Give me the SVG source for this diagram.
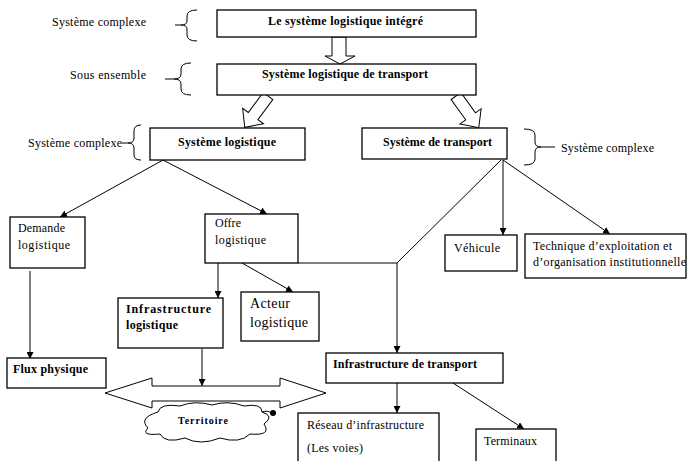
<svg xmlns="http://www.w3.org/2000/svg" width="688" height="461" viewBox="0 0 688 461">
  <defs>
    <marker id="arr" viewBox="0 0 10 10" refX="10" refY="5" markerWidth="7" markerHeight="7" orient="auto-start-reverse" markerUnits="userSpaceOnUse">
      <path d="M0,0 L10,5 L0,10 Z" fill="#000"/>
    </marker>
    <style>
      text { font-family: "Liberation Serif", "Times New Roman", serif; fill: #000; }
      .b { font-weight: bold; font-size: 12px; }
      .r { font-size: 12px; }
      .box { fill: #fff; stroke: #000; stroke-width: 1.3; }
      .ln { fill: none; stroke: #000; stroke-width: 1; }
      .hol { fill: #fff; stroke: #000; stroke-width: 1; stroke-linejoin: miter; }
      .brace { fill: none; stroke: #000; stroke-width: 1; }
    </style>
  </defs>
  <rect width="688" height="461" fill="#fff"/>

  <!-- side annotations with braces -->
  <g id="note-top">
    <text class="r" x="52" y="26" textLength="94" lengthAdjust="spacing">Système complexe</text>
    <path class="brace" d="M197,10 Q187,10 187,16 L187,21 Q187,25 181,25 L175,25 M181,25 Q187,25 187,29 L187,35 Q187,41 197,41"/>
  </g>
  <g id="note-sous">
    <text class="r" x="70" y="79" textLength="76" lengthAdjust="spacing">Sous ensemble</text>
    <path class="brace" d="M191,63 Q181,63 181,69 L181,74 Q181,79 174,79 L165,79 M174,79 Q181,79 181,84 L181,89 Q181,95 191,95"/>
  </g>
  <g id="note-left">
    <text class="r" x="28" y="147" textLength="94" lengthAdjust="spacing">Système complexe</text>
    <path class="brace" d="M141,125 Q134,125 134,131 L134,138 Q134,143 128,143 L122,143 M128,143 Q134,143 134,148 L134,155 Q134,160 141,160"/>
  </g>
  <g id="note-right">
    <text class="r" x="561" y="152" textLength="93" lengthAdjust="spacing">Système complexe</text>
    <path class="brace" d="M524,129 Q535,129 535,135 L535,142 Q535,147 541,147 L555,147 M541,147 Q535,147 535,152 L535,159 Q535,165 524,165"/>
  </g>

  <!-- hollow block arrows -->
  <g id="block-arrows">
    <polygon class="hol" points="332,37 346,37 346,56 355,56 340,64 325,56 332,56"/>
    <polygon class="hol" transform="translate(268,96) rotate(36.6)" points="-6,0 6,0 6,25 13,25 0,39 -13,25 -6,25"/>
    <polygon class="hol" transform="translate(456,96) rotate(-35.7)" points="-6,0 6,0 6,25 13,25 0,39 -13,25 -6,25"/>
  </g>

  <!-- connectors -->
  <g id="connectors">
    <line class="ln" x1="163" y1="160" x2="60" y2="217" marker-end="url(#arr)"/>
    <line class="ln" x1="163" y1="160" x2="267" y2="214" marker-end="url(#arr)"/>
    <line class="ln" x1="30" y1="271" x2="30" y2="359" marker-end="url(#arr)"/>
    <line class="ln" x1="218" y1="263" x2="218" y2="298" marker-end="url(#arr)"/>
    <line class="ln" x1="242" y1="263" x2="293" y2="292" marker-end="url(#arr)"/>
    <polyline class="ln" points="298,263 397,263 501,160"/>
    <line class="ln" x1="397" y1="263" x2="397" y2="353" marker-end="url(#arr)"/>
    <line class="ln" x1="503" y1="160" x2="503" y2="235" marker-end="url(#arr)"/>
    <line class="ln" x1="503" y1="160" x2="610" y2="234" marker-end="url(#arr)"/>
    <line class="ln" x1="202" y1="349" x2="202" y2="386" marker-end="url(#arr)"/>
    <line class="ln" x1="397" y1="383" x2="397" y2="413" marker-end="url(#arr)"/>
    <line class="ln" x1="453" y1="383" x2="524" y2="429" marker-end="url(#arr)"/>
  </g>

  <!-- nodes -->
  <g id="n-integre">
    <rect class="box" x="217" y="10" width="259" height="27"/>
    <text class="b" x="268" y="25" textLength="155" lengthAdjust="spacing">Le système logistique intégré</text>
  </g>
  <g id="n-slt">
    <rect class="box" x="217" y="64" width="259" height="31"/>
    <text class="b" x="262" y="78" textLength="166" lengthAdjust="spacing">Système logistique de transport</text>
  </g>
  <g id="n-sl">
    <rect class="box" x="150" y="128" width="155" height="32"/>
    <text class="b" x="178" y="146" textLength="98" lengthAdjust="spacing">Système logistique</text>
  </g>
  <g id="n-st">
    <rect class="box" x="362" y="128" width="145" height="31"/>
    <text class="b" x="383" y="146" textLength="109" lengthAdjust="spacing">Système de transport</text>
  </g>
  <g id="n-demande">
    <rect class="box" x="10" y="217" width="75" height="51"/>
    <text class="r" x="18" y="232" textLength="47" lengthAdjust="spacing">Demande</text>
    <text class="r" x="18" y="249" textLength="52" lengthAdjust="spacing">logistique</text>
  </g>
  <g id="n-offre">
    <rect class="box" x="205" y="214" width="93" height="49"/>
    <text class="r" x="215" y="227" textLength="26" lengthAdjust="spacing">Offre</text>
    <text class="r" x="215" y="244" textLength="51" lengthAdjust="spacing">logistique</text>
  </g>
  <g id="n-infra-log">
    <rect class="box" x="118" y="298" width="105" height="50"/>
    <text class="b" x="126" y="313" textLength="85" lengthAdjust="spacing">Infrastructure</text>
    <text class="b" x="126" y="329" textLength="52" lengthAdjust="spacing">logistique</text>
  </g>
  <g id="n-acteur">
    <rect class="box" x="241" y="292" width="78" height="49"/>
    <text class="r" x="250" y="308" style="font-size:14px" textLength="40" lengthAdjust="spacing">Acteur</text>
    <text class="r" x="250" y="327" style="font-size:14px" textLength="58" lengthAdjust="spacing">logistique</text>
  </g>
  <g id="n-flux">
    <rect class="box" x="7" y="358" width="99" height="30"/>
    <text class="b" x="13" y="373" textLength="75" lengthAdjust="spacing">Flux physique</text>
  </g>
  <g id="n-vehicule">
    <rect class="box" x="445" y="235" width="72" height="36"/>
    <text class="r" x="454" y="252" textLength="46" lengthAdjust="spacing">Véhicule</text>
  </g>
  <g id="n-technique">
    <rect class="box" x="525" y="234" width="161" height="44"/>
    <text class="r" x="533" y="250" textLength="139" lengthAdjust="spacing">Technique d’exploitation et</text>
    <text class="r" x="533" y="266" textLength="153" lengthAdjust="spacing">d’organisation institutionnelle</text>
  </g>
  <g id="n-infra-tr">
    <rect class="box" x="326" y="353" width="177" height="30"/>
    <text class="b" x="333" y="368" textLength="144" lengthAdjust="spacing">Infrastructure de transport</text>
  </g>
  <g id="n-reseau">
    <rect class="box" x="298" y="413" width="141" height="52"/>
    <text class="r" x="307" y="429" textLength="117" lengthAdjust="spacing">Réseau d’infrastructure</text>
    <text class="r" x="307" y="452" textLength="56" lengthAdjust="spacing">(Les voies)</text>
  </g>
  <g id="n-terminaux">
    <rect class="box" x="476" y="429" width="80" height="36"/>
    <text class="r" x="484" y="445" textLength="53" lengthAdjust="spacing">Terminaux</text>
  </g>

  <!-- territory: two-way block arrow over a cloud -->
  <g id="n-territoire">
    <polygon class="hol" points="105,393 152,378 152,386 280,386 280,378 326,393 280,408 280,401 152,401 152,408"/>
    <path class="hol" d="M148,428 Q138,418 158,412 Q160,403 180,406 Q195,400 212,405 Q228,400 244,406 Q262,403 262,412 Q275,416 264,424 Q272,436 250,434 Q240,444 220,438 Q200,446 185,438 Q165,444 160,434 Q140,436 148,428 Z"/>
    <path class="ln" d="M262,412 Q268,410 271,413"/>
    <circle cx="273" cy="413" r="3" fill="#000"/>
    <text class="b" x="178" y="424" style="font-size:10px" textLength="50" lengthAdjust="spacing">Territoire</text>
  </g>
</svg>
